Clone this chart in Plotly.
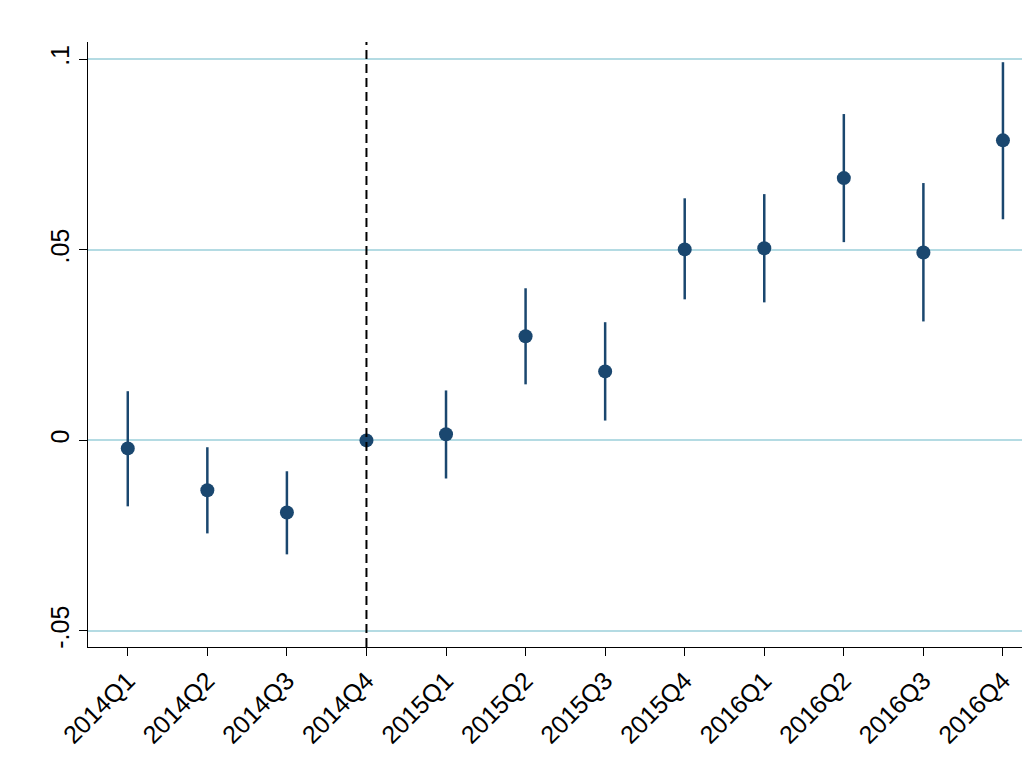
import plotly.graph_objects as go

quarters = ["2014Q1","2014Q2","2014Q3","2014Q4","2015Q1","2015Q2","2015Q3","2015Q4",
            "2016Q1","2016Q2","2016Q3","2016Q4"]
coef  = [-0.0021,-0.0131,-0.0189,0.0,0.0016,0.0273,0.0181,0.0501,0.0504,0.0688,0.0493,0.0787]
upper = [0.0129,-0.0018,-0.0081,None,0.0131,0.0399,0.0310,0.0635,0.0646,0.0856,0.0675,0.0992]
lower = [-0.0173,-0.0244,-0.0299,None,-0.0100,0.0147,0.0052,0.0370,0.0362,0.0520,0.0312,0.0580]
ytick_vals = [-0.05, 0, 0.05, 0.1]
ytick_text = ["-.05", "0", ".05", ".1"]

navy = "#1a476f"
xs = list(range(len(quarters)))
fig = go.Figure()
lx, ly = [], []
for i, (u, l) in enumerate(zip(upper, lower)):
    if u is None:
        continue
    lx += [i, i, None]; ly += [l, u, None]
fig.add_trace(go.Scatter(x=lx, y=ly, mode="lines", line=dict(color=navy, width=2.5), showlegend=False))
fig.add_trace(go.Scatter(x=xs, y=coef, mode="markers", marker=dict(color=navy, size=14), showlegend=False))
fig.add_vline(x=3, line=dict(color="black", width=2, dash="9px,5px"))

fig.update_layout(
    width=1022, height=768, margin=dict(l=80, r=0, t=34, b=129),
    paper_bgcolor="white", plot_bgcolor="white",
    font=dict(family="Liberation Sans, Arial", size=25, color="black"),
    xaxis=dict(range=[-0.5, 11.34], tickvals=xs, ticktext=quarters, tickangle=-45,
               showgrid=False, zeroline=False, showline=True, linecolor="black", linewidth=1,
               ticks="outside", ticklen=8, tickcolor="black", tickfont=dict(size=25)),
    yaxis=dict(range=[-0.0542, 0.1045], tickvals=ytick_vals, ticktext=ytick_text, tickangle=-90,
               showgrid=True, gridcolor="#b4dbe3", gridwidth=2, zeroline=False,
               showline=True, linecolor="black", linewidth=1,
               ticks="outside", ticklen=8, tickcolor="black", tickfont=dict(size=25)),
)
fig.write_html("out.html")
